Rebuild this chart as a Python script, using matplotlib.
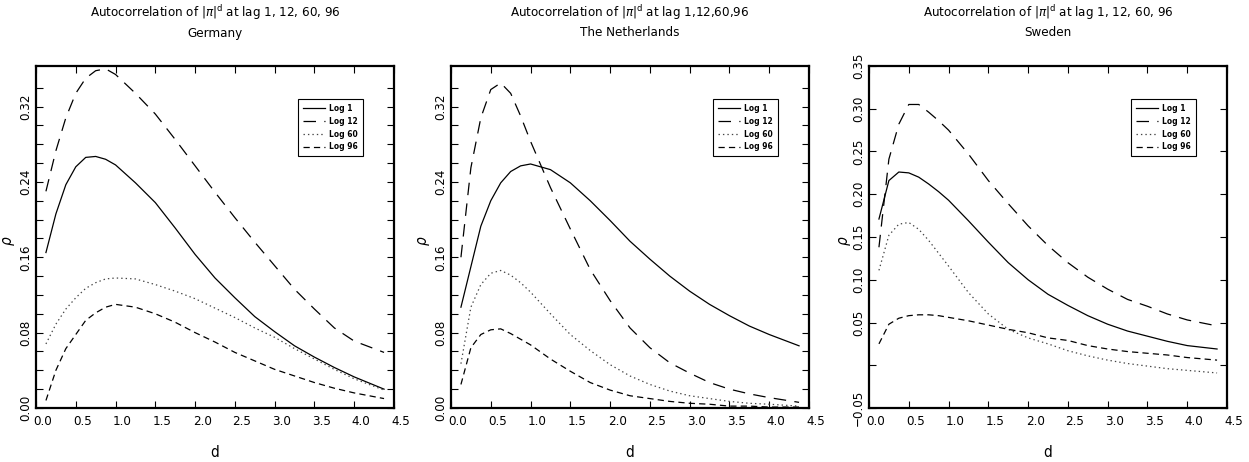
import numpy as np
import matplotlib
matplotlib.use("Agg")
import matplotlib.pyplot as plt
import matplotlib.transforms as mtrans

plt.rcParams['font.family'] = ['DejaVu Sans']
plt.rcParams['font.stretch'] = 'condensed'
plt.rcParams['mathtext.fontset'] = 'dejavusans'
plt.rcParams['lines.scale_dashes'] = False

# lag values on the d grid
d = [0.125, 0.25, 0.375, 0.5, 0.625, 0.75, 0.875, 1.0, 1.25, 1.5, 1.75,
     2.0, 2.25, 2.5, 2.75, 3.0, 3.25, 3.5, 3.75, 4.0, 4.375]

# Germany
de_lag1 = [0.165, 0.206, 0.237, 0.256, 0.266, 0.267, 0.264, 0.258, 0.239, 0.218, 0.191,
           0.163, 0.138, 0.117, 0.097, 0.081, 0.066, 0.054, 0.043, 0.033, 0.020]
de_lag12 = [0.230, 0.273, 0.308, 0.334, 0.350, 0.358, 0.360, 0.354, 0.334, 0.312, 0.285,
            0.257, 0.229, 0.202, 0.176, 0.151, 0.126, 0.105, 0.085, 0.071, 0.059]
de_lag60 = [0.068, 0.089, 0.105, 0.117, 0.127, 0.133, 0.137, 0.138, 0.137, 0.131, 0.124,
            0.116, 0.106, 0.096, 0.085, 0.075, 0.063, 0.052, 0.041, 0.031, 0.019]
de_lag96 = [0.008, 0.040, 0.063, 0.078, 0.093, 0.101, 0.107, 0.110, 0.107, 0.100, 0.091,
            0.080, 0.070, 0.059, 0.050, 0.041, 0.034, 0.027, 0.021, 0.016, 0.010]

# The Netherlands
nl_lag1 = [0.107, 0.150, 0.193, 0.220, 0.239, 0.251, 0.257, 0.259, 0.253, 0.239, 0.220,
           0.199, 0.177, 0.158, 0.140, 0.124, 0.110, 0.098, 0.087, 0.078, 0.066]
nl_lag12 = [0.160, 0.255, 0.308, 0.338, 0.345, 0.334, 0.310, 0.283, 0.234, 0.190, 0.147,
            0.114, 0.085, 0.064, 0.048, 0.037, 0.027, 0.020, 0.015, 0.011, 0.006]
nl_lag60 = [0.047, 0.107, 0.131, 0.143, 0.146, 0.141, 0.133, 0.123, 0.100, 0.078, 0.061,
            0.046, 0.034, 0.025, 0.018, 0.013, 0.010, 0.007, 0.005, 0.004, 0.002]
nl_lag96 = [0.025, 0.064, 0.078, 0.083, 0.084, 0.079, 0.073, 0.067, 0.052, 0.039, 0.027,
            0.019, 0.013, 0.010, 0.007, 0.005, 0.004, 0.002, 0.002, 0.001, 0.001]

# Sweden
se_lag1 = [0.171, 0.216, 0.226, 0.225, 0.220, 0.212, 0.203, 0.193, 0.169, 0.144, 0.120,
           0.100, 0.083, 0.070, 0.058, 0.048, 0.040, 0.034, 0.028, 0.023, 0.019]
se_lag12 = [0.138, 0.241, 0.282, 0.305, 0.305, 0.296, 0.286, 0.275, 0.247, 0.216, 0.189,
            0.163, 0.140, 0.120, 0.103, 0.089, 0.077, 0.069, 0.060, 0.053, 0.046]
se_lag60 = [0.111, 0.152, 0.165, 0.167, 0.159, 0.146, 0.131, 0.116, 0.085, 0.060, 0.042,
            0.032, 0.025, 0.017, 0.011, 0.006, 0.002, -0.001, -0.004, -0.006, -0.009]
se_lag96 = [0.025, 0.048, 0.055, 0.058, 0.059, 0.059, 0.058, 0.056, 0.052, 0.047, 0.042,
            0.038, 0.032, 0.029, 0.023, 0.019, 0.016, 0.014, 0.012, 0.009, 0.006]

lag_labels = ['Log 1', 'Log 12', 'Log 60', 'Log 96']
title_lines = [(r'Autocorrelation of |$\pi$|$^{\rm d}$ at lag 1, 12, 60, 96', 'Germany'),
               (r'Autocorrelation of |$\pi$|$^{\rm d}$ at lag 1,12,60,96', 'The Netherlands'),
               (r'Autocorrelation of |$\pi$|$^{\rm d}$ at lag 1, 12, 60, 96', 'Sweden')]

styles = [dict(linestyle='-'),
          dict(dashes=(9, 6)),
          dict(dashes=(1, 2.2), color='#444444'),
          dict(dashes=(4.5, 3))]

fig = plt.figure(figsize=(12.49, 4.62), dpi=100)
W, H = 1249.0, 462.0
lefts = [36, 451, 869]
ylab_x = [-0.053, -0.053, -0.045]
panels = [(de_lag1, de_lag12, de_lag60, de_lag96),
          (nl_lag1, nl_lag12, nl_lag60, nl_lag96),
          (se_lag1, se_lag12, se_lag60, se_lag96)]

for k in range(3):
    ax = fig.add_axes([lefts[k] / W, (H - 408) / H, 358 / W, 342 / H])
    for series, lab, st in zip(panels[k], lag_labels, styles):
        kw = dict(color='black', lw=0.9)
        kw.update(st)
        ax.plot(d, series, label=lab, **kw)
    ax.set_xlim(0, 4.5)
    ax.set_xticks(np.arange(0, 4.51, 0.5))
    ax.set_xticklabels(['%.1f' % v for v in np.arange(0, 4.51, 0.5)])
    if k < 2:
        ax.set_ylim(0, 0.363)
        ax.set_yticks(np.arange(0, 0.36, 0.02), minor=True)
        ax.set_yticks([0.0, 0.08, 0.16, 0.24, 0.32])
        ax.set_yticklabels(['0.00', '0.08', '0.16', '0.24', '0.32'])
    else:
        ax.set_ylim(-0.05, 0.35)
        ax.set_yticks([-0.05, 0.0, 0.05, 0.10, 0.15, 0.20, 0.25, 0.30, 0.35])
        ax.set_yticklabels(['\u22120.05', '', '0.05', '0.10', '0.15', '0.20', '0.25', '0.30', '0.35'])
    ax.tick_params(which='both', direction='in', top=True, right=True, length=5, width=0.8,
                   labelsize=9.5)
    ax.tick_params(which='minor', length=5)
    ax.tick_params(axis='x', pad=5)
    ax.tick_params(axis='y', pad=3)
    for lbl in ax.get_yticklabels():
        lbl.set_rotation(90)
        lbl.set_va('center')
    off = mtrans.ScaledTranslation(7 / 100, 0, fig.dpi_scale_trans)
    for lbl in ax.get_xticklabels():
        lbl.set_transform(lbl.get_transform() + off)
    for sp in ax.spines.values():
        sp.set_linewidth(1.6)
    ax.set_xlabel('d', fontsize=11, labelpad=12)
    ax.set_ylabel(r'$\rho$', fontsize=11)
    ax.yaxis.set_label_coords(ylab_x[k], 0.49)
    cx = (lefts[k] + 179) / W
    fig.text(cx, 1 - 13 / H, title_lines[k][0], ha='center', va='center', fontsize=9.5)
    fig.text(cx, 1 - 33 / H, title_lines[k][1], ha='center', va='center', fontsize=9.5)
    leg = ax.legend(loc='upper right', bbox_to_anchor=(0.925, 0.915), fontsize=6,
                    handlelength=2.6, handletextpad=0.5, labelspacing=0.45,
                    borderpad=0.6, fancybox=False, edgecolor='black', framealpha=1)
    leg.get_frame().set_linewidth(0.8)
    for t in leg.get_texts():
        t.set_fontweight('bold')

fig.savefig('out.png', dpi=100)
